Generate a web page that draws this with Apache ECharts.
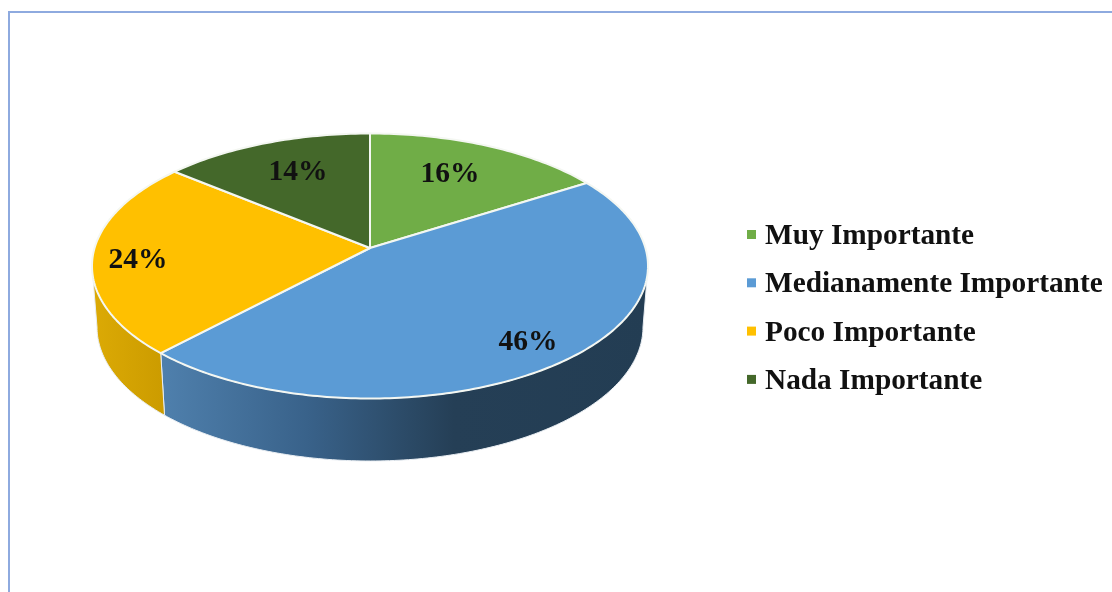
<!DOCTYPE html>
<html>
<head>
<meta charset="utf-8">
<style>
  html, body { margin: 0; padding: 0; background: #fff; }
  #chart { width: 1112px; height: 592px; }
</style>
<script src="https://cdn.jsdelivr.net/npm/echarts@6/dist/echarts.min.js"></script>
</head>
<body>
<div id="chart"></div>
<script>
const categories = ['Muy Importante', 'Medianamente Importante', 'Poco Importante', 'Nada Importante'];
const percents = [16, 46, 24, 14];
const colors = ['#70ad47', '#5b9bd5', '#ffc000', '#44682a'];

// where each % label sits
const labelPos = [[450, 174], [528, 342], [138, 260], [298, 172]];

// ellipse of the top face, its lower rim, and the apex (off centre because of the perspective)
const top3d = { cx: 370, cy: 266, rx: 278, ry: 132.5 };
const bottom3d = { cx: 370, cy: 327, rx: 273, ry: 134 };
const apex = { x: 370, y: 248 };

const RAD = Math.PI / 180;
const FONT = '"Liberation Serif", "Times New Roman", serif';

// share of the circle -> angle on the ellipse, squeezed towards the apex side
function warp(deg) {
    const a = (apex.y - top3d.cy) / top3d.ry * -1;
    const k = (1 - Math.sqrt(1 - a * a)) / a;
    const half = Math.atan(((1 - k) / (1 + k)) * Math.tan((deg / 2) * RAD)) / RAD;
    const t = half * 2;
    return deg > 180 ? t + 360 : t;
}

function onEllipse(e, deg) {
    return [e.cx + e.rx * Math.sin(deg * RAD), e.cy - e.ry * Math.cos(deg * RAD)];
}

function sliceRange(i) {
    const total = percents.reduce((s, v) => s + v, 0);
    const before = percents.slice(0, i).reduce((s, v) => s + v, 0);
    return [warp((before / total) * 360), warp(((before + percents[i]) / total) * 360)];
}

function arc(e, from, to) {
    const pts = [];
    const n = Math.max(2, Math.ceil(Math.abs(to - from)));
    for (let j = 0; j <= n; j++) {
        pts.push(onEllipse(e, from + ((to - from) * j) / n));
    }
    return pts;
}

const wallFill = [
    null,
    new echarts.graphic.LinearGradient(160, 0, 650, 0, [
        { offset: 0, color: '#4f80ad' },
        { offset: 0.3, color: '#39628a' },
        { offset: 0.6, color: '#253f56' },
        { offset: 1, color: '#233d53' }
    ], true),
    new echarts.graphic.LinearGradient(92, 0, 162, 0, [
        { offset: 0, color: '#dcaa05' },
        { offset: 1, color: '#cc9c00' }
    ], true),
    null
];

function renderWalls() {
    const children = [];
    percents.forEach((v, i) => {
        const [s, e] = sliceRange(i);
        const from = Math.max(s, 90);
        const to = Math.min(e, 270);
        if (from >= to) return;
        const pts = arc(top3d, from, to).concat(arc(bottom3d, to, from));
        children.push({
            type: 'polygon',
            shape: { points: pts },
            style: { fill: wallFill[i], stroke: '#e9eef3', lineWidth: 1 }
        });
    });
    return { type: 'group', children: children };
}

function renderSlice(i) {
    return function () {
        const [s, e] = sliceRange(i);
        const pts = [[apex.x, apex.y]].concat(arc(top3d, s, e));
        return {
            type: 'group',
            children: [
                {
                    type: 'polygon',
                    shape: { points: pts },
                    style: { fill: colors[i], stroke: '#f4f7f2', lineWidth: 2, lineJoin: 'round' }
                },
                {
                    type: 'text',
                    z2: 10,
                    style: {
                        text: percents[i] + '%',
                        x: labelPos[i][0],
                        y: labelPos[i][1],
                        align: 'center',
                        verticalAlign: 'middle',
                        fill: '#111',
                        font: 'bold 29.5px ' + FONT
                    }
                }
            ]
        };
    };
}

const series = [
    {
        type: 'custom',
        name: 'walls',
        coordinateSystem: 'none',
        silent: true,
        data: [0],
        renderItem: renderWalls
    }
];
categories.forEach((name, i) => {
    series.push({
        type: 'custom',
        name: name,
        coordinateSystem: 'none',
        silent: true,
        itemStyle: { color: colors[i] },
        data: [percents[i]],
        renderItem: renderSlice(i)
    });
});

const myChart = echarts.init(document.getElementById('chart'));
myChart.setOption({
    backgroundColor: '#fff',
    animation: false,
    legend: {
        data: categories,
        orient: 'vertical',
        left: 742,
        top: 213,
        icon: 'rect',
        itemWidth: 9,
        itemHeight: 9,
        itemGap: 15.3,
        selectedMode: false,
        formatter: '{a|{name}}',
        textStyle: {
            rich: {
                a: {
                    color: '#111',
                    fontFamily: FONT,
                    fontWeight: 'bold',
                    fontSize: 29.3,
                    lineHeight: 30,
                    padding: [4, 0, 0, 4]
                }
            }
        }
    },
    graphic: [
        {
            type: 'polyline',
            silent: true,
            shape: { points: [[9, 592], [9, 12], [1112, 12]] },
            style: { stroke: '#8eaadf', lineWidth: 2, fill: null }
        }
    ],
    series: series
});
</script>
</body>
</html>
